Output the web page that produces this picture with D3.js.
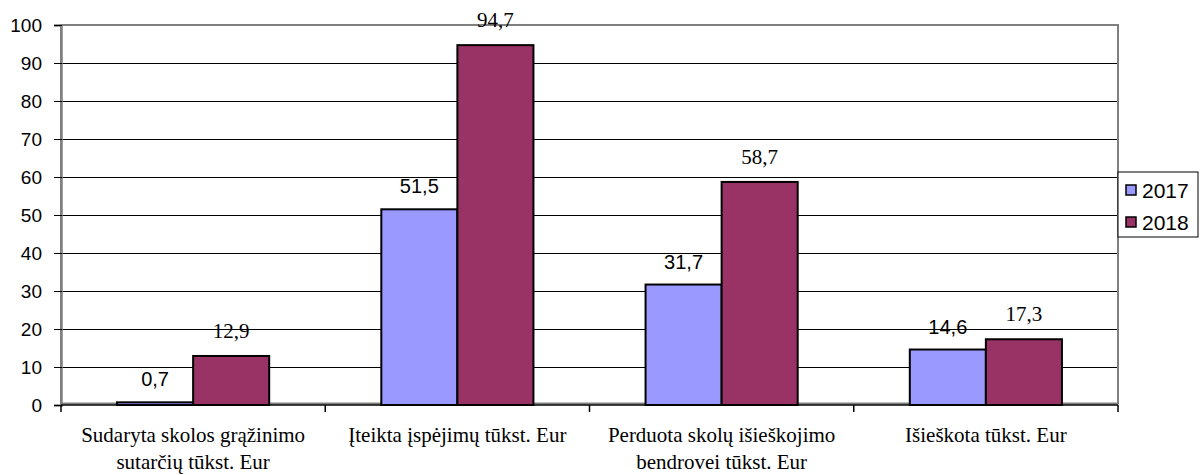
<!DOCTYPE html>
<html><head><meta charset="utf-8">
<script src="https://cdn.jsdelivr.net/npm/d3@7/dist/d3.min.js"></script>
<style>
body{margin:0;background:#fff}
.sans{font-family:"Liberation Sans", Arial, sans-serif}
.serif{font-family:"Liberation Serif", "Times New Roman", Times, serif}
</style>
</head><body>
<svg id="c" width="1204" height="475"></svg>
<script>
const categories = [
  ["Sudaryta skolos grąžinimo", "sutarčių tūkst. Eur"],
  ["Įteikta įspėjimų tūkst. Eur"],
  ["Perduota skolų išieškojimo", "bendrovei tūkst. Eur"],
  ["Išieškota tūkst. Eur"]
];
const years = ["2017", "2018"];
const values2017 = [0.7, 51.5, 31.7, 14.6];
const values2018 = [12.9, 94.7, 58.7, 17.3];
const labels2017 = ["0,7", "51,5", "31,7", "14,6"];
const labels2018 = ["12,9", "94,7", "58,7", "17,3"];
const yTicks = [0,10,20,30,40,50,60,70,80,90,100];

const colors = {"2017": "#9999FF", "2018": "#993366"};
const svg = d3.select("#c");
const L = 61, R = 1118, T = 25, B = 405;
const catIdx = categories.map((d,i)=>i);
const x0 = d3.scaleBand().domain(catIdx).range([L, R]).padding(0);
const x1 = d3.scaleBand().domain(years).range([0, x0.bandwidth()]).paddingInner(0).paddingOuter(0.737);
const y = d3.scaleLinear().domain([0,100]).range([B, T]);

// gridlines
svg.append("g").selectAll("line").data(yTicks.filter(t=>t>0 && t<100)).join("line")
  .attr("x1", L).attr("x2", R).attr("y1", d=>y(d)).attr("y2", d=>y(d))
  .attr("stroke", "#000").attr("stroke-width", 1).attr("shape-rendering","crispEdges");
// plot border (gray)
svg.append("rect").attr("x", L).attr("y", T).attr("width", R-L).attr("height", B-T-1.5)
  .attr("fill","none").attr("stroke","#808080").attr("stroke-width",2);

// y axis
const yAxis = d3.axisLeft(y).tickValues(yTicks).tickSize(7).tickPadding(12).tickFormat(d3.format("d"));
const gy = svg.append("g").attr("transform", `translate(${L},0)`).call(yAxis);
gy.attr("font-family", null);
gy.select(".domain").attr("stroke","#808080").attr("stroke-width",2.5);
gy.selectAll(".tick line").attr("stroke","#000").attr("x1", -7).attr("x2", 1);
gy.selectAll(".tick text").attr("class","sans").attr("font-size",19).attr("fill","#000");

// bars
const data = [];
catIdx.forEach(i=>{
  data.push({c:i, yr:"2017", v:values2017[i], lab:labels2017[i]});
  data.push({c:i, yr:"2018", v:values2018[i], lab:labels2018[i]});
});
svg.append("g").selectAll("rect").data(data).join("rect")
  .attr("x", d=>x0(d.c)+x1(d.yr)).attr("width", x1.bandwidth())
  .attr("y", d=>y(d.v)).attr("height", d=>B-y(d.v))
  .attr("fill", d=>colors[d.yr]).attr("stroke","#000").attr("stroke-width",2);

// x axis
const xAxisLine = svg.append("g");
xAxisLine.append("line").attr("x1", L).attr("x2", R).attr("y1", B).attr("y2", B).attr("stroke","#000").attr("stroke-width",1.5);
const bounds = catIdx.map(i=>x0(i)).concat([R]);
xAxisLine.selectAll("line.t").data(bounds).join("line").attr("class","t")
  .attr("x1", d=>d).attr("x2", d=>d).attr("y1", B).attr("y2", B+7).attr("stroke","#000").attr("stroke-width",1.5);

// value labels
svg.append("g").selectAll("text").data(data).join("text")
  .attr("class", d=> d.yr==="2017" ? "sans" : "serif")
  .attr("x", d=>x0(d.c)+x1(d.yr)+x1.bandwidth()/2)
  .attr("y", d=> y(d.v) - (d.yr==="2017" ? 16 : 18))
  .attr("text-anchor","middle")
  .attr("font-size", d=> d.yr==="2017" ? 20 : 21)
  .attr("fill","#000")
  .text(d=>d.lab);

// category labels
const cg = svg.append("g");
catIdx.forEach(i=>{
  const cx = x0(i)+x0.bandwidth()/2;
  const t = cg.append("text").attr("class","serif").attr("x", cx).attr("y", 442)
    .attr("text-anchor","middle").attr("font-size",21).attr("fill","#000");
  categories[i].forEach((line,j)=>{
    t.append("tspan").attr("x", cx).attr("dy", j===0?0:27).text(line);
  });
});

// legend
const lg = svg.append("g");
lg.append("rect").attr("x",1118).attr("y",172).attr("width",80).attr("height",65).attr("fill","#fff").attr("stroke","#000").attr("stroke-width",1);
years.forEach((yr,i)=>{
  const cy = 190 + i*32;
  lg.append("rect").attr("x",1126).attr("y",cy-5).attr("width",10).attr("height",10).attr("fill",colors[yr]).attr("stroke","#000").attr("stroke-width",1.5);
  lg.append("text").attr("class","sans").attr("x",1142).attr("y",cy+7.5).attr("font-size",21).attr("fill","#000").text(yr);
});
</script>
</body></html>
